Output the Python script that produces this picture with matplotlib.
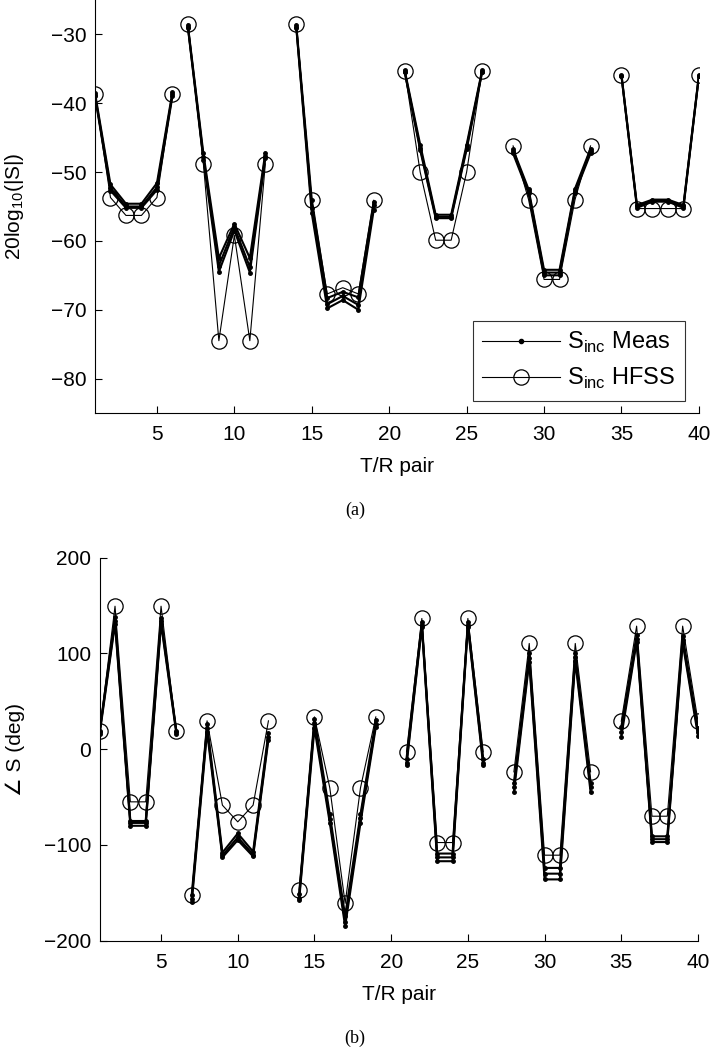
import numpy as np
import matplotlib
matplotlib.use("Agg")
import matplotlib.pyplot as plt

plt.rcParams['font.family'] = ['Liberation Sans', 'DejaVu Sans']
plt.rcParams['mathtext.fontset'] = 'custom'
plt.rcParams['mathtext.rm'] = 'Liberation Sans'

# six groups of T/R pairs, each drawn as its own polyline
pair_groups = [[1, 2, 3, 4, 5, 6],
               [7, 8, 9, 10, 11, 12],
               [14, 15, 16, 17, 18, 19],
               [21, 22, 23, 24, 25, 26],
               [28, 29, 30, 31, 32, 33],
               [35, 36, 37, 38, 39, 40]]

# magnitude (dB), 6 values per group
mag_hfss = [-38.7, -53.7, -56.3, -56.3, -53.7, -38.7,
            -28.5, -48.8, -74.5, -59.2, -74.5, -48.8,
            -28.5, -54.1, -67.7, -66.8, -67.7, -54.1,
            -35.3, -50.0, -59.9, -59.9, -50.0, -35.3,
            -46.2, -54.0, -65.6, -65.6, -54.0, -46.2,
            -35.9, -55.3, -55.3, -55.3, -55.3, -35.9]
mag_meas1 = [-38.5, -51.8, -54.6, -54.6, -51.6, -38.4,
             -28.7, -47.3, -62.5, -57.5, -62.5, -47.2,
             -28.7, -54.0, -68.3, -67.4, -68.2, -54.3,
             -35.2, -46.0, -56.2, -56.2, -46.0, -35.2,
             -46.7, -52.5, -64.2, -64.2, -52.4, -46.6,
             -35.9, -54.8, -54.0, -54.0, -54.8, -35.9]
mag_meas2 = [-38.8, -52.3, -55.0, -55.0, -52.2, -38.7,
             -28.9, -47.8, -63.6, -58.0, -63.8, -47.6,
             -28.9, -55.2, -69.2, -68.0, -69.3, -54.8,
             -35.4, -46.5, -56.5, -56.5, -46.4, -35.4,
             -47.0, -52.8, -64.6, -64.6, -52.7, -47.0,
             -36.0, -55.0, -54.2, -54.2, -55.0, -36.0]
mag_meas3 = [-39.0, -52.7, -55.2, -55.2, -52.6, -39.0,
             -29.0, -48.2, -64.5, -58.5, -64.6, -48.0,
             -29.0, -56.0, -69.8, -68.6, -70.0, -55.5,
             -35.5, -46.8, -56.7, -56.7, -46.7, -35.5,
             -47.3, -53.1, -65.0, -65.0, -53.0, -47.3,
             -36.1, -55.2, -54.3, -54.3, -55.2, -36.1]

# phase (deg)
ph_hfss = [18.8, 149.3, -55, -55, 149.3, 18.8,
           -152.5, 29.6, -58.5, -75.9, -58.5, 29.6,
           -147, 33.7, -40.4, -161, -40.4, 33.7,
           -2.8, 136.5, -97.5, -97.5, 136.5, -2.8,
           -23.7, 110.4, -110.7, -110.7, 110.4, -23.7,
           29.2, 128.5, -70, -70, 128.5, 29.2]
ph_meas1 = [19, 138, -75, -75, 137, 19,
            -152, 26, -108, -88, -107, 17,
            -151, 32, -68, -174, -68, 30,
            -10, 133, -109, -109, 133, -10,
            -35, 100, -124, -124, 100, -35,
            23, 119, -91, -91, 118, 22]
ph_meas2 = [18, 134, -77, -77, 134, 18,
            -156, 22, -111, -92, -110, 13,
            -155, 27, -73, -180, -72, 26,
            -14, 130, -113, -113, 130, -14,
            -40, 95, -130, -130, 96, -40,
            18, 115, -94, -94, 114, 18]
ph_meas3 = [16, 131, -80, -80, 131, 16,
            -160, 18, -113, -95, -112, 10,
            -158, 22, -77, -185, -77, 23,
            -17, 128, -117, -117, 128, -17,
            -45, 91, -136, -136, 92, -45,
            13, 112, -97, -97, 111, 14]

fig = plt.figure(figsize=(7.11, 10.5), dpi=100)
ax1 = fig.add_axes([0.1336, 0.6067, 0.8494, 0.3933])
ax2 = fig.add_axes([0.1402, 0.1041, 0.8415, 0.3648])


def draw(ax, meas, hfss):
    for i, g in enumerate(pair_groups):
        for m in meas:
            ax.plot(g, m[6 * i:6 * i + 6], '-', color='k', lw=1.5,
                    marker='.', ms=5)
        ax.plot(g, hfss[6 * i:6 * i + 6], '-', color='k', lw=0.8,
                marker='o', ms=11, mfc='none', mew=0.9)
    ax.spines['top'].set_visible(False)
    ax.spines['right'].set_visible(False)
    ax.tick_params(direction='in', length=5, labelsize=15, width=0.8)
    ax.tick_params(axis='x', pad=9)
    ax.tick_params(axis='y', pad=6)
    ax.set_xlim(1, 40)
    ax.set_xticks(range(5, 41, 5))
    ax.set_xlabel('T/R pair', fontsize=15, labelpad=9)


draw(ax1, [mag_meas1, mag_meas2, mag_meas3], mag_hfss)
ax1.set_ylim(-85, -25)
ax1.set_yticks(range(-80, -29, 10))
ax1.set_ylabel(r'20log$_{10}$(|S|)', fontsize=15, labelpad=18)

h_meas, = ax1.plot([], [], '-', color='k', lw=0.8, marker='.', ms=6)
h_hfss, = ax1.plot([], [], '-', color='k', lw=0.8, marker='o', ms=11,
                   mfc='none', mew=0.9)
leg = ax1.legend([h_meas, h_hfss], [r'S$_\mathrm{inc}$ Meas', r'S$_\mathrm{inc}$ HFSS'],
                 loc='lower right', bbox_to_anchor=(0.977, 0.03), fontsize=17,
                 frameon=True, fancybox=False, handlelength=3.3, borderpad=0.4,
                 labelspacing=0.45, handletextpad=0.3, borderaxespad=0)
leg.get_frame().set_edgecolor('k')
leg.get_frame().set_linewidth(0.8)

draw(ax2, [ph_meas1, ph_meas2, ph_meas3], ph_hfss)
ax2.set_ylim(-200, 200)
ax2.set_yticks(range(-200, 201, 100))
ax2.set_ylabel('\u2220 S (deg)', fontsize=15, labelpad=14)

fig.text(355 / 711, 1 - 510 / 1050, '(a)', ha='center', va='center',
         fontsize=13, family='Liberation Serif')
fig.text(355 / 711, 1 - 1038 / 1050, '(b)', ha='center', va='center',
         fontsize=13, family='Liberation Serif')

fig.savefig('out.png', dpi=100)
